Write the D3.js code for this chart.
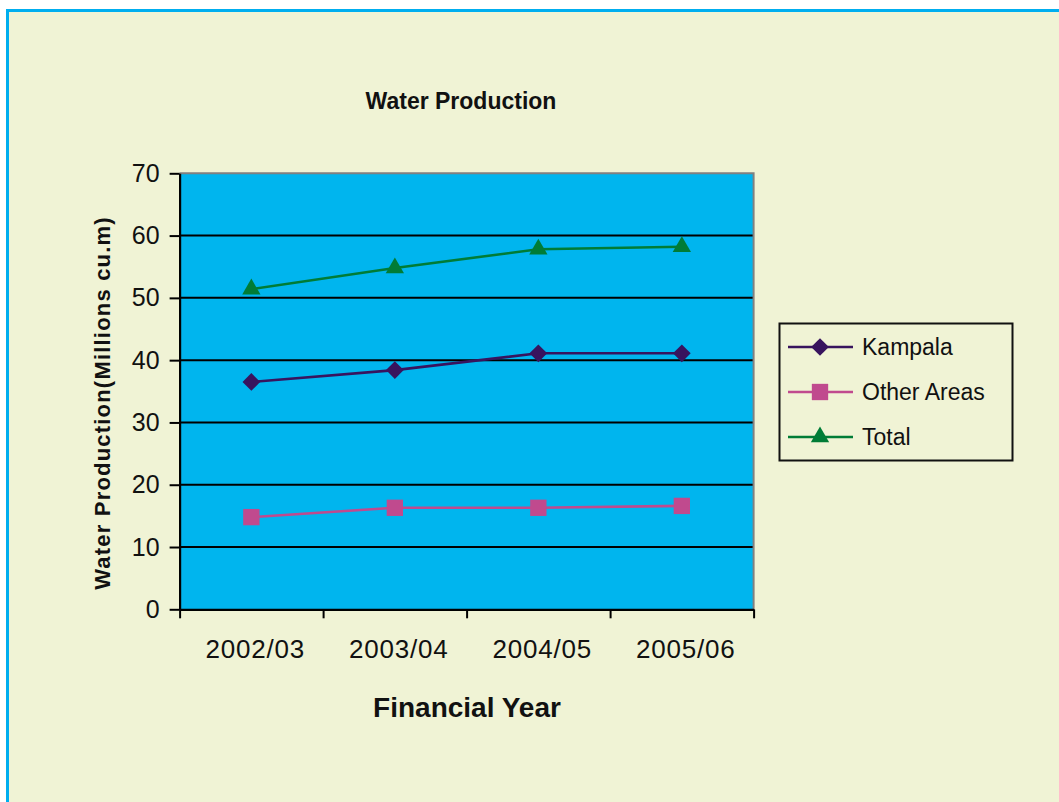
<!DOCTYPE html>
<html>
<head>
<meta charset="utf-8">
<script src="https://cdn.jsdelivr.net/npm/d3@7"></script>
<style>
  html, body { margin: 0; padding: 0; background: #ffffff; }
  svg { display: block; }
  text { font-family: "Liberation Sans", Arial, sans-serif; fill: #111111; }
</style>
</head>
<body>
<svg id="chart" width="1059" height="802"></svg>
<script>
// Financial years on the category axis
const years = ["2002/03", "2003/04", "2004/05", "2005/06"];

// Production per year, millions of cubic metres
const kampala = [36.5, 38.4, 41.1, 41.1];
const otherAreas = [14.8, 16.3, 16.3, 16.6];
const total = [51.4, 54.8, 57.8, 58.2];

// Value axis ticks
const yTicks = [0, 10, 20, 30, 40, 50, 60, 70];

const seriesNames = ["Kampala", "Other Areas", "Total"];
const seriesValues = [kampala, otherAreas, total];
const seriesColors = ["#38145e", "#c04a8e", "#007c36"];
const seriesSymbols = [d3.symbolDiamond2, d3.symbolSquare2, d3.symbolTriangle2];
const symbolSizes = [200, 340, 240];

const svg = d3.select("#chart");

// Outer panel with blue frame
svg.append("rect")
  .attr("x", 7.5).attr("y", 10.5)
  .attr("width", 1100).attr("height", 900)
  .attr("fill", "#f0f3d5")
  .attr("stroke", "#00aeef").attr("stroke-width", 3);

const plot = { left: 179.6, right: 753.6, top: 173.3, bottom: 609.3 };

const x = d3.scaleBand().domain(years).range([plot.left, plot.right]).paddingInner(0).paddingOuter(0);
const y = d3.scaleLinear().domain([0, 70]).range([plot.bottom, plot.top]);
const cx = d => x(d) + x.bandwidth() / 2;

// Plot background
svg.append("rect")
  .attr("x", plot.left).attr("y", plot.top)
  .attr("width", plot.right - plot.left).attr("height", plot.bottom - plot.top)
  .attr("fill", "#00b5ee");

// Horizontal gridlines
svg.append("g")
  .selectAll("line")
  .data(yTicks.filter(t => t > 0 && t < 70))
  .join("line")
  .attr("x1", plot.left).attr("x2", plot.right)
  .attr("y1", d => y(d)).attr("y2", d => y(d))
  .attr("stroke", "#000").attr("stroke-width", 2);

// Grey border on top and right of the plot area
svg.append("path")
  .attr("d", `M${plot.left},${plot.top}H${plot.right}V${plot.bottom}`)
  .attr("fill", "none").attr("stroke", "#808080").attr("stroke-width", 2);

// Value axis
const yAxis = svg.append("g")
  .attr("transform", `translate(${plot.left},0)`)
  .call(d3.axisLeft(y).tickValues(yTicks).tickSize(10).tickSizeOuter(0).tickPadding(10));
yAxis.select(".domain").attr("stroke", "#000").attr("stroke-width", 2.2);
yAxis.selectAll(".tick line").attr("stroke", "#000").attr("stroke-width", 2);
yAxis.selectAll(".tick text")
  .attr("font-size", 25)
  .attr("font-family", "Liberation Sans, Arial, sans-serif")
  .attr("fill", "#111");

// Category axis: ticks on band edges, labels at band centres
const edgeScale = d3.scaleLinear().domain([0, years.length]).range([plot.left, plot.right]);
const xAxis = svg.append("g")
  .attr("transform", `translate(0,${plot.bottom})`)
  .call(d3.axisBottom(edgeScale).tickValues(d3.range(years.length + 1)).tickSize(9).tickSizeOuter(0).tickFormat(""));
xAxis.select(".domain").attr("stroke", "#000").attr("stroke-width", 2.2);
xAxis.selectAll(".tick line").attr("stroke", "#000").attr("stroke-width", 2);

svg.append("g")
  .selectAll("text")
  .data(years)
  .join("text")
  .attr("x", d => cx(d) + 4)
  .attr("y", 658)
  .attr("text-anchor", "middle")
  .attr("font-size", 26)
  .attr("letter-spacing", 0.8)
  .text(d => d);

// Series lines and markers
const line = d3.line().x((v, i) => cx(years[i])).y(v => y(v));

seriesValues.forEach((vals, s) => {
  const g = svg.append("g");
  g.append("path")
    .attr("d", line(vals))
    .attr("fill", "none")
    .attr("stroke", seriesColors[s])
    .attr("stroke-width", 2.6);
  g.selectAll("path.marker")
    .data(vals)
    .join("path")
    .attr("class", "marker")
    .attr("transform", (v, i) => `translate(${cx(years[i])},${y(v)})`)
    .attr("d", d3.symbol().type(seriesSymbols[s]).size(symbolSizes[s]))
    .attr("fill", seriesColors[s]);
});

// Titles
svg.append("text")
  .attr("x", 461).attr("y", 109)
  .attr("text-anchor", "middle")
  .attr("font-size", 23).attr("font-weight", "bold")
  .text("Water Production");

svg.append("text")
  .attr("transform", "translate(110,403) rotate(-90)")
  .attr("text-anchor", "middle")
  .attr("font-size", 22).attr("font-weight", "bold")
  .attr("letter-spacing", 1.2)
  .text("Water Production(Millions cu.m)");

svg.append("text")
  .attr("x", 467).attr("y", 717)
  .attr("text-anchor", "middle")
  .attr("font-size", 28).attr("font-weight", "bold")
  .text("Financial Year");

// Legend
const legend = svg.append("g");
legend.append("rect")
  .attr("x", 779.5).attr("y", 323.5)
  .attr("width", 233).attr("height", 137)
  .attr("fill", "none").attr("stroke", "#111").attr("stroke-width", 2);

const rowY = [347, 392, 437];
seriesNames.forEach((name, s) => {
  const row = legend.append("g").attr("transform", `translate(0,${rowY[s]})`);
  row.append("line")
    .attr("x1", 788).attr("x2", 853)
    .attr("stroke", seriesColors[s]).attr("stroke-width", 2.6);
  row.append("path")
    .attr("transform", "translate(820,0)")
    .attr("d", d3.symbol().type(seriesSymbols[s]).size(symbolSizes[s]))
    .attr("fill", seriesColors[s]);
  row.append("text")
    .attr("x", 862).attr("y", 8)
    .attr("font-size", 23)
    .text(name);
});
</script>
</body>
</html>
